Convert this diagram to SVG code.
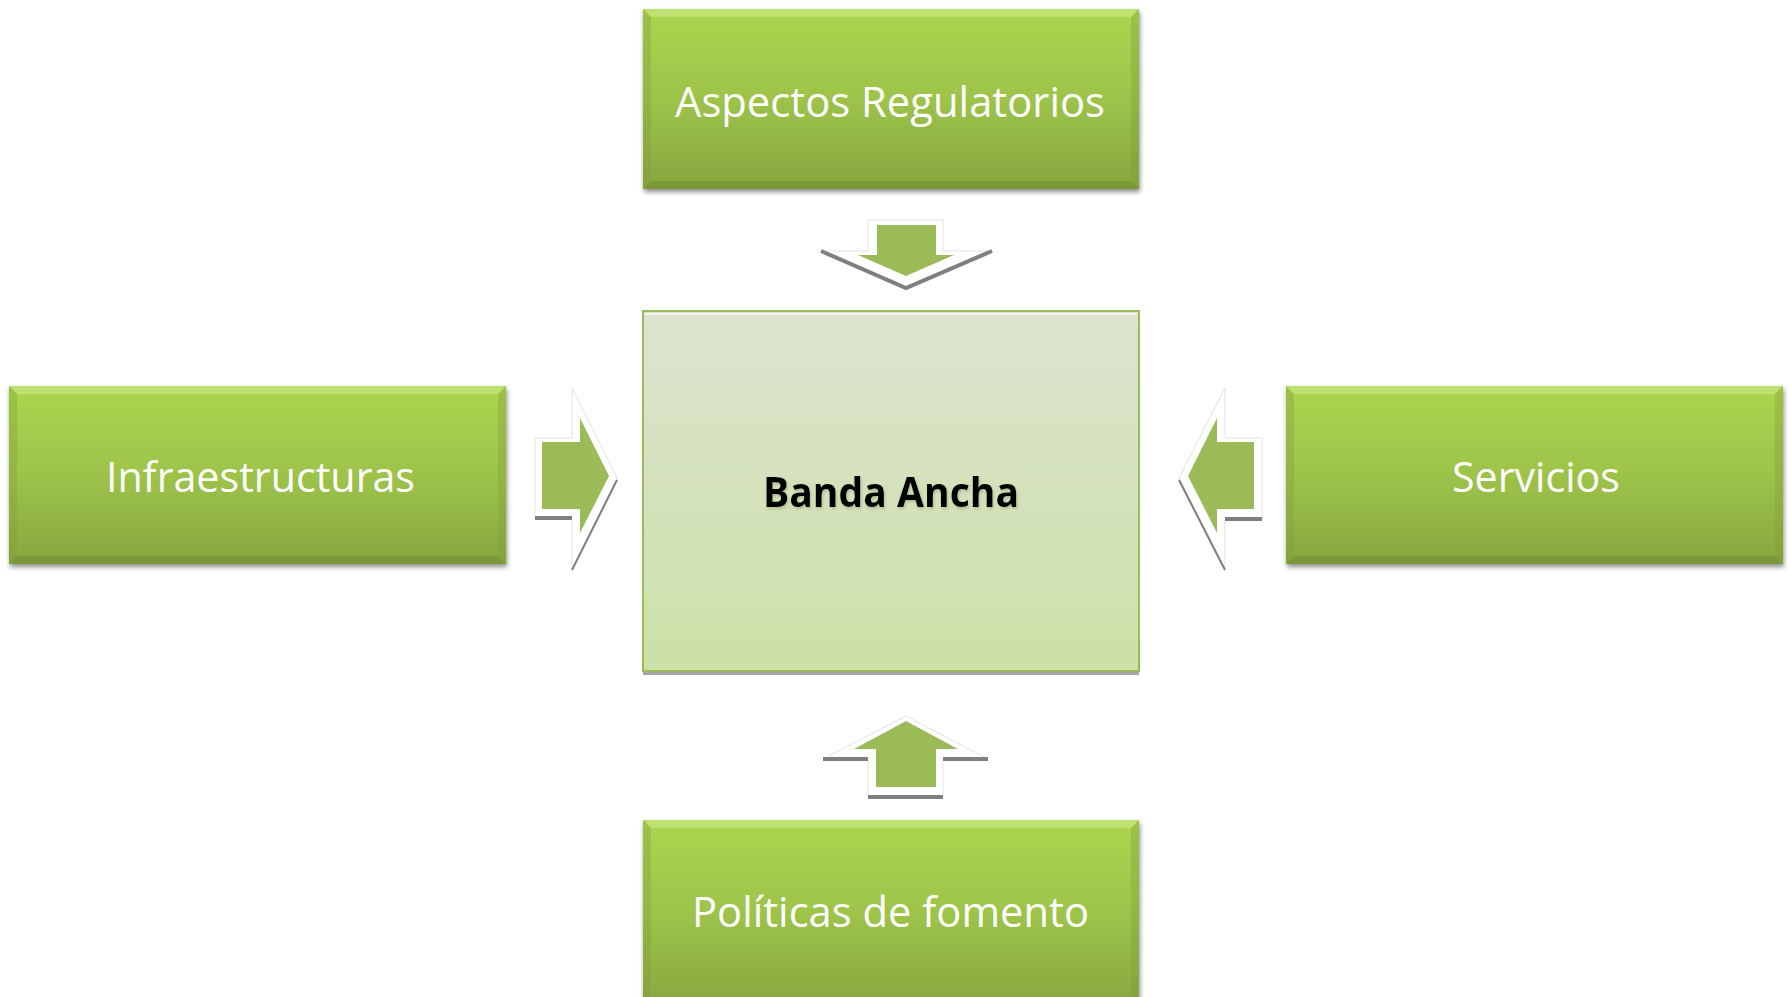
<svg xmlns="http://www.w3.org/2000/svg" width="1791" height="997" viewBox="0 0 1791 997">
<defs>
<linearGradient id="gBox" x1="0" y1="0" x2="0" y2="1">
<stop offset="0" stop-color="#acd550"/>
<stop offset="0.5" stop-color="#9dc34a"/>
<stop offset="1" stop-color="#87a63f"/>
</linearGradient>
<linearGradient id="gCenter" x1="0" y1="0" x2="0" y2="1">
<stop offset="0" stop-color="#dde3d0"/>
<stop offset="1" stop-color="#cbe1a7"/>
</linearGradient>
<filter id="shadow" x="-5%" y="-5%" width="110%" height="115%">
<feDropShadow dx="1" dy="3" stdDeviation="2.5" flood-color="#000" flood-opacity="0.45"/>
</filter>
<filter id="tshadow" x="-5%" y="-20%" width="110%" height="140%">
<feDropShadow dx="1" dy="2" stdDeviation="1.5" flood-color="#6a7a50" flood-opacity="0.35"/>
</filter>
<style>
.box{fill:url(#gBox);}
.bevT{fill:#c4e57e;opacity:0.75;}
.bevB{fill:#6f8c30;opacity:0.55;}
.bevS{fill:#7f9e3a;opacity:0.35;}
.lbl{font-family:"Open Sans","Noto Sans",sans-serif;font-size:42px;fill:#ffffff;text-anchor:middle;}
.center-lbl{font-family:"Open Sans","Noto Sans",sans-serif;font-size:42px;font-weight:bold;fill:#000;text-anchor:middle;}
.arrOut{fill:#ffffff;stroke:#e2e2e2;stroke-width:1;}
.arrIn{fill:#9bbb59;}
.sh{stroke:#7f7f7f;fill:none;stroke-linecap:butt;}
</style>
</defs>
<rect width="1791" height="997" fill="#ffffff"/>

<g id="connectors">
<g id="arrow-top">
<polygon class="arrOut" points="868,220 943,220 943,251 992,251 906,288 821,251 868,251"/>
<polyline class="sh" stroke-width="4" points="821,251 906,288 992,251"/>
<polygon class="arrIn" points="877,225 936,225 936,255 954,255 906,276 858,255 877,255"/>
</g>
<g id="arrow-left">
<polygon class="arrOut" points="535,438 572,438 572,388 617,478 572,570 572,518 535,518"/>
<line class="sh" stroke-width="4" x1="535" y1="518" x2="572" y2="518"/>
<line class="sh" stroke-width="2" x1="617" y1="480" x2="572" y2="570"/>
<polygon class="arrIn" points="542,442 580,442 580,418 609,476 580,533 580,509 542,509"/>
</g>
<g id="arrow-right">
<polygon class="arrOut" points="1262,438 1225,438 1225,388 1179,478 1225,570 1225,519 1262,519"/>
<line class="sh" stroke-width="4" x1="1225" y1="519" x2="1262" y2="519"/>
<line class="sh" stroke-width="2" x1="1179" y1="480" x2="1225" y2="570"/>
<polygon class="arrIn" points="1254,442 1217,442 1217,418 1188,476 1217,533 1217,509 1254,509"/>
</g>
<g id="arrow-bottom">
<polygon class="arrOut" points="868,797 943,797 943,759 988,759 906,716 823,759 868,759"/>
<line class="sh" stroke-width="4" x1="823" y1="759" x2="868" y2="759"/>
<line class="sh" stroke-width="4" x1="943" y1="759" x2="988" y2="759"/>
<line class="sh" stroke-width="4" x1="868" y1="797" x2="943" y2="797"/>
<polygon class="arrIn" points="876,787 936,787 936,749 958,749 906,721 854,749 876,749"/>
</g>
</g>

<g id="node-aspectos">
<rect class="box" x="643" y="9" width="496" height="180" filter="url(#shadow)"/>
<polygon class="bevT" points="643,9 1139,9 1131,17 651,17"/>
<polygon class="bevS" points="643,9 651,17 651,181 643,189"/>
<polygon class="bevS" points="1139,9 1131,17 1131,181 1139,189"/>
<polygon class="bevB" points="643,189 651,181 1131,181 1139,189"/>
<text class="lbl" x="890" y="117" textLength="430" lengthAdjust="spacingAndGlyphs">Aspectos Regulatorios</text>
</g>

<g id="node-infraestructuras">
<rect class="box" x="9" y="386" width="497" height="178" filter="url(#shadow)"/>
<polygon class="bevT" points="9,386 506,386 498,394 17,394"/>
<polygon class="bevS" points="9,386 17,394 17,556 9,564"/>
<polygon class="bevS" points="506,386 498,394 498,556 506,564"/>
<polygon class="bevB" points="9,564 17,556 498,556 506,564"/>
<text class="lbl" x="260.5" y="492" textLength="309" lengthAdjust="spacingAndGlyphs">Infraestructuras</text>
</g>

<g id="node-servicios">
<rect class="box" x="1286" y="386" width="497" height="178" filter="url(#shadow)"/>
<polygon class="bevT" points="1286,386 1783,386 1775,394 1294,394"/>
<polygon class="bevS" points="1286,386 1294,394 1294,556 1286,564"/>
<polygon class="bevS" points="1783,386 1775,394 1775,556 1783,564"/>
<polygon class="bevB" points="1286,564 1294,556 1775,556 1783,564"/>
<text class="lbl" x="1536" y="492" textLength="168" lengthAdjust="spacingAndGlyphs">Servicios</text>
</g>

<g id="node-politicas">
<rect class="box" x="643" y="820" width="496" height="190" filter="url(#shadow)"/>
<polygon class="bevT" points="643,820 1139,820 1131,828 651,828"/>
<polygon class="bevS" points="643,820 651,828 651,1010 643,1010"/>
<polygon class="bevS" points="1139,820 1131,828 1131,1010 1139,1010"/>
<text class="lbl" x="890.5" y="927" textLength="397" lengthAdjust="spacingAndGlyphs">Políticas de fomento</text>
</g>

<g id="node-banda-ancha">
<rect x="643" y="671" width="496" height="4" fill="#a6a6a6"/>
<rect x="643" y="311" width="496" height="360" fill="url(#gCenter)" stroke="#9bbb59" stroke-width="2"/>
<line x1="645" y1="314" x2="1137" y2="314" stroke="#ffffff" stroke-width="2" opacity="0.7"/>
<text class="center-lbl" x="891" y="507" textLength="256" lengthAdjust="spacingAndGlyphs" filter="url(#tshadow)">Banda Ancha</text>
</g>
</svg>
